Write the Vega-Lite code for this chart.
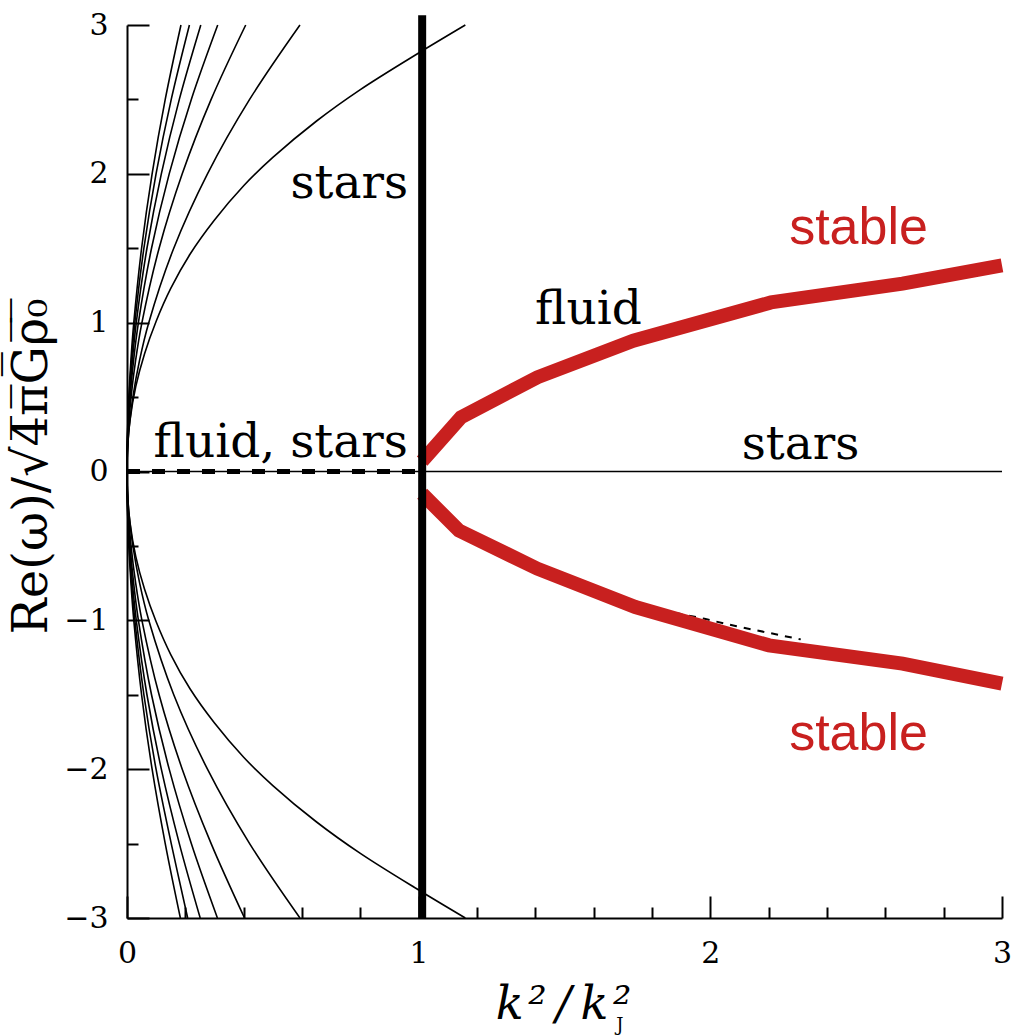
{
  "$schema": "https://vega.github.io/schema/vega-lite/v6.json",
  "width": 875,
  "height": 893,
  "autosize": {"type": "none"},
  "padding": {"left": 127, "top": 25, "right": 12, "bottom": 117},
  "background": "white",
  "config": {"view": {"stroke": null}},
  "resolve": {"axis": {"x": "independent", "y": "independent"}},
  "datasets": {
    "curves": [
      {"c":"u1","x":0,"y":0},{"c":"u1","x":0.00065,"y":0.15},{"c":"u1","x":0.0024,"y":0.3},{"c":"u1","x":0.0063,"y":0.5},{"c":"u1","x":0.0135,"y":0.75},{"c":"u1","x":0.0233,"y":1},{"c":"u1","x":0.05,"y":1.5},{"c":"u1","x":0.0861,"y":2},{"c":"u1","x":0.1311,"y":2.5},{"c":"u1","x":0.185,"y":3},
      {"c":"u2","x":0,"y":0},{"c":"u2","x":0.00075,"y":0.15},{"c":"u2","x":0.00277,"y":0.3},{"c":"u2","x":0.00728,"y":0.5},{"c":"u2","x":0.01564,"y":0.75},{"c":"u2","x":0.0269,"y":1},{"c":"u2","x":0.0579,"y":1.5},{"c":"u2","x":0.0996,"y":2},{"c":"u2","x":0.1517,"y":2.5},{"c":"u2","x":0.214,"y":3},
      {"c":"u3","x":0,"y":0},{"c":"u3","x":0.00089,"y":0.15},{"c":"u3","x":0.00328,"y":0.3},{"c":"u3","x":0.0086,"y":0.5},{"c":"u3","x":0.0185,"y":0.75},{"c":"u3","x":0.0318,"y":1},{"c":"u3","x":0.0684,"y":1.5},{"c":"u3","x":0.1177,"y":2},{"c":"u3","x":0.1794,"y":2.5},{"c":"u3","x":0.253,"y":3},
      {"c":"u4","x":0,"y":0},{"c":"u4","x":0.00109,"y":0.15},{"c":"u4","x":0.00403,"y":0.3},{"c":"u4","x":0.01057,"y":0.5},{"c":"u4","x":0.02273,"y":0.75},{"c":"u4","x":0.0391,"y":1},{"c":"u4","x":0.0841,"y":1.5},{"c":"u4","x":0.1447,"y":2},{"c":"u4","x":0.2205,"y":2.5},{"c":"u4","x":0.311,"y":3},
      {"c":"u5","x":0,"y":0},{"c":"u5","x":0.00143,"y":0.15},{"c":"u5","x":0.00527,"y":0.3},{"c":"u5","x":0.01384,"y":0.5},{"c":"u5","x":0.02975,"y":0.75},{"c":"u5","x":0.0512,"y":1},{"c":"u5","x":0.1101,"y":1.5},{"c":"u5","x":0.1894,"y":2},{"c":"u5","x":0.2885,"y":2.5},{"c":"u5","x":0.407,"y":3},
      {"c":"u6","x":0,"y":0},{"c":"u6","x":0.00208,"y":0.15},{"c":"u6","x":0.00769,"y":0.3},{"c":"u6","x":0.02016,"y":0.5},{"c":"u6","x":0.04335,"y":0.75},{"c":"u6","x":0.0746,"y":1},{"c":"u6","x":0.1603,"y":1.5},{"c":"u6","x":0.2759,"y":2},{"c":"u6","x":0.4204,"y":2.5},{"c":"u6","x":0.593,"y":3},
      {"c":"u7","x":0,"y":0},{"c":"u7","x":0.002,"y":0.16},{"c":"u7","x":0.01,"y":0.34},{"c":"u7","x":0.03,"y":0.57},{"c":"u7","x":0.06,"y":0.79},{"c":"u7","x":0.1,"y":1.01},{"c":"u7","x":0.15,"y":1.23},{"c":"u7","x":0.216,"y":1.46},{"c":"u7","x":0.3,"y":1.69},{"c":"u7","x":0.4,"y":1.92},{"c":"u7","x":0.5,"y":2.11},{"c":"u7","x":0.65,"y":2.355},{"c":"u7","x":0.8,"y":2.566},{"c":"u7","x":1.0,"y":2.812},{"c":"u7","x":1.16,"y":3.0},
      {"c":"l1","x":0,"y":0},{"c":"l1","x":0.00065,"y":-0.15},{"c":"l1","x":0.0024,"y":-0.3},{"c":"l1","x":0.0063,"y":-0.5},{"c":"l1","x":0.0135,"y":-0.75},{"c":"l1","x":0.0233,"y":-1},{"c":"l1","x":0.05,"y":-1.5},{"c":"l1","x":0.0861,"y":-2},{"c":"l1","x":0.1311,"y":-2.5},{"c":"l1","x":0.183,"y":-3},
      {"c":"l2","x":0,"y":0},{"c":"l2","x":0.00075,"y":-0.15},{"c":"l2","x":0.00277,"y":-0.3},{"c":"l2","x":0.00728,"y":-0.5},{"c":"l2","x":0.01564,"y":-0.75},{"c":"l2","x":0.0269,"y":-1},{"c":"l2","x":0.0579,"y":-1.5},{"c":"l2","x":0.0996,"y":-2},{"c":"l2","x":0.1517,"y":-2.5},{"c":"l2","x":0.208,"y":-3},
      {"c":"l3","x":0,"y":0},{"c":"l3","x":0.00089,"y":-0.15},{"c":"l3","x":0.00328,"y":-0.3},{"c":"l3","x":0.0086,"y":-0.5},{"c":"l3","x":0.0185,"y":-0.75},{"c":"l3","x":0.0318,"y":-1},{"c":"l3","x":0.0684,"y":-1.5},{"c":"l3","x":0.1177,"y":-2},{"c":"l3","x":0.1794,"y":-2.5},{"c":"l3","x":0.251,"y":-3},
      {"c":"l4","x":0,"y":0},{"c":"l4","x":0.00109,"y":-0.15},{"c":"l4","x":0.00403,"y":-0.3},{"c":"l4","x":0.01057,"y":-0.5},{"c":"l4","x":0.02273,"y":-0.75},{"c":"l4","x":0.0391,"y":-1},{"c":"l4","x":0.0841,"y":-1.5},{"c":"l4","x":0.1447,"y":-2},{"c":"l4","x":0.2205,"y":-2.5},{"c":"l4","x":0.31,"y":-3},
      {"c":"l5","x":0,"y":0},{"c":"l5","x":0.00143,"y":-0.15},{"c":"l5","x":0.00527,"y":-0.3},{"c":"l5","x":0.01384,"y":-0.5},{"c":"l5","x":0.02975,"y":-0.75},{"c":"l5","x":0.0512,"y":-1},{"c":"l5","x":0.1101,"y":-1.5},{"c":"l5","x":0.1894,"y":-2},{"c":"l5","x":0.2885,"y":-2.5},{"c":"l5","x":0.403,"y":-3},
      {"c":"l6","x":0,"y":0},{"c":"l6","x":0.00208,"y":-0.15},{"c":"l6","x":0.00769,"y":-0.3},{"c":"l6","x":0.02016,"y":-0.5},{"c":"l6","x":0.04335,"y":-0.75},{"c":"l6","x":0.0746,"y":-1},{"c":"l6","x":0.1603,"y":-1.5},{"c":"l6","x":0.2759,"y":-2},{"c":"l6","x":0.4204,"y":-2.5},{"c":"l6","x":0.593,"y":-3},
      {"c":"l7","x":0,"y":0},{"c":"l7","x":0.002,"y":-0.16},{"c":"l7","x":0.01,"y":-0.34},{"c":"l7","x":0.03,"y":-0.57},{"c":"l7","x":0.06,"y":-0.79},{"c":"l7","x":0.1,"y":-1.01},{"c":"l7","x":0.15,"y":-1.23},{"c":"l7","x":0.216,"y":-1.46},{"c":"l7","x":0.3,"y":-1.69},{"c":"l7","x":0.4,"y":-1.92},{"c":"l7","x":0.5,"y":-2.11},{"c":"l7","x":0.65,"y":-2.355},{"c":"l7","x":0.8,"y":-2.566},{"c":"l7","x":1.0,"y":-2.812},{"c":"l7","x":1.16,"y":-3.0}
    ],
    "zeroline": [{"x":0,"y":0},{"x":3,"y":0}],
    "zerodash": [{"x":0,"y":0},{"x":1,"y":0}],
    "fluiddash": [{"x":1.88,"y":-0.95},{"x":1.98,"y":-0.99},{"x":2.09,"y":-1.04},{"x":2.19,"y":-1.08},{"x":2.31,"y":-1.128}],
    "red": [
      {"b":"up","x":1.012,"y":0.07},{"b":"up","x":1.145,"y":0.364},{"b":"up","x":1.407,"y":0.633},{"b":"up","x":1.736,"y":0.879},{"b":"up","x":2.208,"y":1.136},{"b":"up","x":2.659,"y":1.262},{"b":"up","x":3.0,"y":1.385},
      {"b":"lo","x":1.012,"y":-0.15},{"b":"lo","x":1.138,"y":-0.396},{"b":"lo","x":1.407,"y":-0.653},{"b":"lo","x":1.743,"y":-0.911},{"b":"lo","x":2.201,"y":-1.168},{"b":"lo","x":2.659,"y":-1.291},{"b":"lo","x":3.0,"y":-1.425}
    ],
    "kline": [{"x":1.012,"y":-3,"y2":3.065}],
    "blacklabels": [
      {"t":"stars","x":0.762,"y":1.84},
      {"t":"fluid, stars","x":0.527,"y":0.096},
      {"t":"fluid","x":1.582,"y":0.993},
      {"t":"stars","x":2.309,"y":0.087}
    ],
    "redlabels": [
      {"t":"stable","x":2.508,"y":1.53},
      {"t":"stable","x":2.508,"y":-1.87}
    ],
    "sub": [{"t":"J","x":1.69,"y":-3.757}]
  },
  "layer": [
    {
      "data": {"name": "curves"},
      "mark": {"type": "line", "color": "black", "strokeWidth": 1.6, "interpolate": "catmull-rom"},
      "encoding": {
        "x": {"field": "x", "type": "quantitative", "scale": {"domain": [0, 3], "nice": false, "zero": false},
          "axis": {"orient": "bottom", "values": [0, 1, 2, 3], "tickSize": -22, "tickWidth": 2, "tickColor": "black", "domainWidth": 2, "domainColor": "black",
            "grid": false, "labelFont": "DejaVu Serif", "labelFontSize": 30, "labelColor": "black", "labelPadding": 42, "labelFlush": false, "labelOverlap": false,
            "format": "d",
            "title": "k\u200a²\u2009/\u2009k\u200a²", "titleFont": "DejaVu Serif", "titleFontStyle": "italic", "titleFontWeight": "normal", "titleFontSize": 46, "titleColor": "black",
            "titleX": 436, "titleY": 100, "titleAlign": "center", "titleBaseline": "alphabetic"}},
        "y": {"field": "y", "type": "quantitative", "scale": {"domain": [-3, 3], "nice": false, "zero": false},
          "axis": {"orient": "left", "values": [-3, -2, -1, 0, 1, 2, 3], "tickSize": -22, "tickWidth": 2, "tickColor": "black", "domainWidth": 2, "domainColor": "black",
            "grid": false, "labelFont": "DejaVu Serif", "labelFontSize": 30, "labelColor": "black", "labelPadding": 41, "labelFlush": false, "labelOverlap": false,
            "format": "d",
            "title": "Re(ω)/√4̅π̅G̅ρ̅₀̅", "titleFont": "DejaVu Serif", "titleFontWeight": "normal", "titleFontSize": 48, "titleColor": "black",
            "titleX": -95, "titleY": 441, "titleAngle": -90, "titleAlign": "center", "titleBaseline": "middle"}},
        "detail": {"field": "c"}
      }
    },
    {
      "data": {"name": "zeroline"},
      "mark": {"type": "line", "color": "black", "strokeWidth": 1.3},
      "encoding": {
        "x": {"field": "x", "type": "quantitative",
          "axis": {"orient": "bottom", "values": [0.2, 0.4, 0.6, 0.8, 1.2, 1.4, 1.6, 1.8, 2.2, 2.4, 2.6, 2.8], "tickSize": -11, "tickWidth": 2, "tickColor": "black", "domain": false, "labels": false, "grid": false, "title": null}},
        "y": {"field": "y", "type": "quantitative",
          "axis": {"orient": "left", "values": [-2.5, -1.5, -0.5, 0.5, 1.5, 2.5], "tickSize": -11, "tickWidth": 2, "tickColor": "black", "domain": false, "labels": false, "grid": false, "title": null}}
      }
    },
    {
      "data": {"name": "zerodash"},
      "mark": {"type": "line", "color": "black", "strokeWidth": 5, "strokeDash": [13, 12]},
      "encoding": {
        "x": {"field": "x", "type": "quantitative", "axis": null},
        "y": {"field": "y", "type": "quantitative", "axis": null}
      }
    },
    {
      "data": {"name": "fluiddash"},
      "mark": {"type": "line", "color": "black", "strokeWidth": 2, "strokeDash": [7, 7]},
      "encoding": {
        "x": {"field": "x", "type": "quantitative", "axis": null},
        "y": {"field": "y", "type": "quantitative", "axis": null}
      }
    },
    {
      "data": {"name": "red"},
      "mark": {"type": "line", "color": "#c8201f", "strokeWidth": 14, "strokeCap": "butt", "strokeJoin": "miter"},
      "encoding": {
        "x": {"field": "x", "type": "quantitative", "axis": null},
        "y": {"field": "y", "type": "quantitative", "axis": null},
        "detail": {"field": "b"}
      }
    },
    {
      "data": {"name": "kline"},
      "mark": {"type": "rule", "color": "black", "strokeWidth": 8},
      "encoding": {
        "x": {"field": "x", "type": "quantitative", "axis": null},
        "y": {"field": "y", "type": "quantitative", "axis": null},
        "y2": {"field": "y2"}
      }
    },
    {
      "data": {"name": "blacklabels"},
      "mark": {"type": "text", "font": "DejaVu Serif", "fontSize": 47, "color": "black", "align": "center", "baseline": "alphabetic"},
      "encoding": {
        "x": {"field": "x", "type": "quantitative", "axis": null},
        "y": {"field": "y", "type": "quantitative", "axis": null},
        "text": {"field": "t"}
      }
    },
    {
      "data": {"name": "redlabels"},
      "mark": {"type": "text", "font": "Liberation Sans", "fontSize": 52, "color": "#c8201f", "align": "center", "baseline": "alphabetic"},
      "encoding": {
        "x": {"field": "x", "type": "quantitative", "axis": null},
        "y": {"field": "y", "type": "quantitative", "axis": null},
        "text": {"field": "t"}
      }
    },
    {
      "data": {"name": "sub"},
      "mark": {"type": "text", "font": "DejaVu Serif", "fontSize": 18, "color": "black", "align": "center", "baseline": "alphabetic"},
      "encoding": {
        "x": {"field": "x", "type": "quantitative", "axis": null},
        "y": {"field": "y", "type": "quantitative", "axis": null},
        "text": {"field": "t"}
      }
    }
  ]
}
